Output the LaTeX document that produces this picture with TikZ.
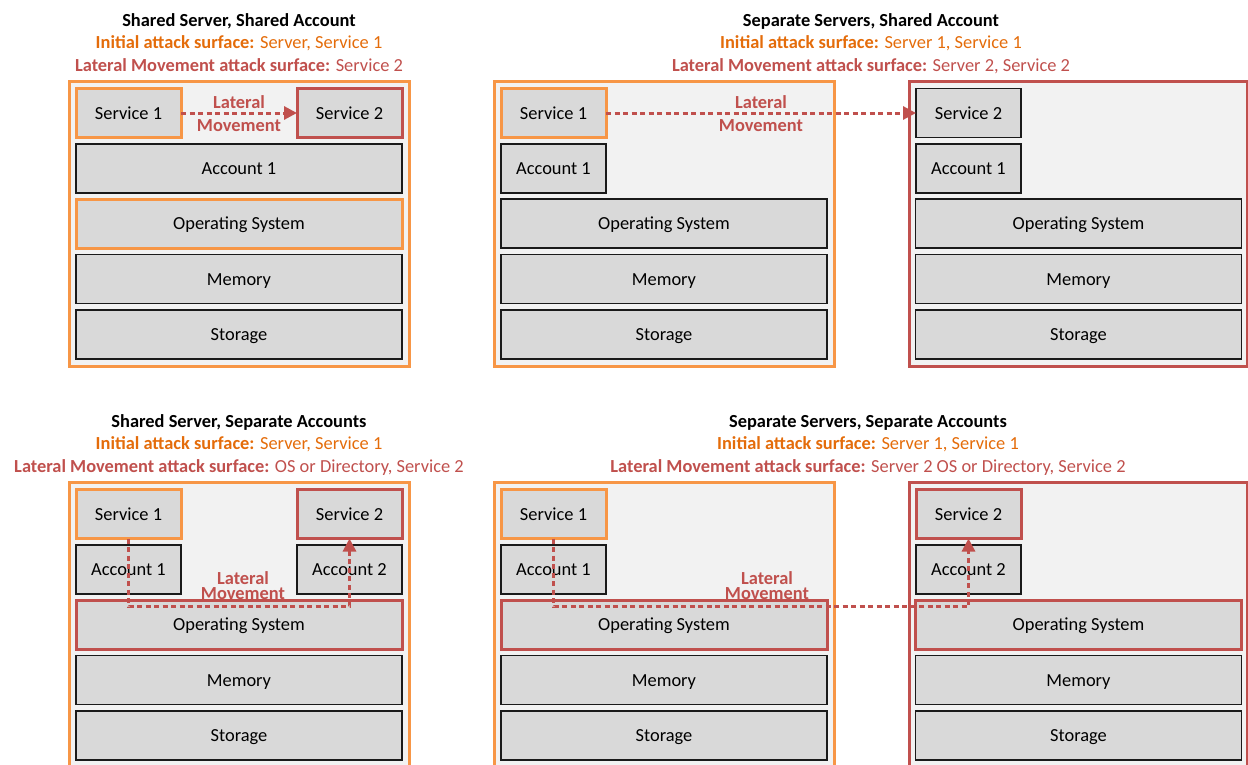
\documentclass[tikz,border=0pt]{standalone}
\usepackage{fontspec}
\setmainfont{Carlito}
\usetikzlibrary{arrows.meta}
\definecolor{orng}{HTML}{F79646}
\definecolor{orngtxt}{HTML}{E46C0A}
\definecolor{redc}{HTML}{C0504D}
\definecolor{boxgray}{HTML}{D9D9D9}
\definecolor{panelbg}{HTML}{F2F2F2}
\definecolor{edgec}{HTML}{1A1A1A}
\newcommand{\hdr}[2]{\textbf{#1} #2}
\begin{document}
\begin{tikzpicture}[x=1pt,y=-1pt,
  every node/.style={font=\fontsize{18.4}{22}\selectfont, inner sep=0pt, outer sep=0pt},
  server/.style={draw=orng, fill=panelbg, line width=3pt, minimum height=285pt},
  serverred/.style={server, draw=redc},
  layer/.style={draw=edgec, fill=boxgray, line width=1.5pt, minimum height=49pt,
                text height=12.3pt, text depth=0pt},
  initial/.style={layer, draw=orng, line width=3pt},
  target/.style={layer, draw=redc, line width=3pt},
  small/.style={minimum width=105pt},
  wide/.style={minimum width=326pt},
  ttl/.style={anchor=base, font=\fontsize{18.4}{22}\selectfont\bfseries},
  sub/.style={anchor=base},
  lateral/.style={draw=redc, line width=3pt, dash pattern=on 5pt off 3.5pt,
                  -{Triangle[length=13pt,width=13pt]}},
  latlabel/.style={text=redc, align=center, anchor=base,
                   font=\fontsize{18.4}{#1}\selectfont\bfseries},
]
\useasboundingbox (0,0) rectangle (1248,764);
\clip (0,0) rectangle (1248,764);

% ---------- Shared Server, Shared Account ----------
\node[ttl] (t1) at (239,26) {Shared Server, Shared Account};
\node[sub, text=orngtxt] (i1) at (239,48) {\hdr{Initial attack surface:}{Server, Service 1}};
\node[sub, text=redc] (l1) at (239,71) {\hdr{Lateral Movement attack surface:}{Service 2}};
\node[server, minimum width=340pt] (srvA) at (239,223.5) {};
\node[initial, small] (s1a) at (128.5,113) {Service 1};
\node[target, small] (s2a) at (349.5,113) {Service 2};
\node[layer, wide] (acA) at (239,168.5) {Account 1};
\node[initial, wide] (osA) at (239,223.5) {Operating System};
\node[layer, wide] (meA) at (239,279) {Memory};
\node[layer, wide] (stA) at (239,334.5) {Storage};
\draw[lateral] (s1a.east) -- (s2a.west);
\node[latlabel=23pt] (lmA) at (239,131) {Lateral\\Movement};

% ---------- Separate Servers, Shared Account ----------
\node[ttl] (t2) at (871,26) {Separate Servers, Shared Account};
\node[sub, text=orngtxt] (i2) at (871,48) {\hdr{Initial attack surface:}{Server 1, Service 1}};
\node[sub, text=redc] (l2) at (871,71) {\hdr{Lateral Movement attack surface:}{Server 2, Service 2}};
\node[server, minimum width=340pt] (srvB1) at (664,223.5) {};
\node[serverred, minimum width=338pt] (srvB2) at (1078,223.5) {};
\node[initial, small] (s1b) at (553.5,113) {Service 1};
\node[layer, small] (ac1b) at (553.5,168.5) {Account 1};
\node[layer, wide] (os1b) at (664,223.5) {Operating System};
\node[layer, wide] (me1b) at (664,279) {Memory};
\node[layer, wide] (st1b) at (664,334.5) {Storage};
\node[layer, small] (s2b) at (968.5,113) {Service 2};
\node[layer, small] (ac2b) at (968.5,168.5) {Account 1};
\node[layer, wide] (os2b) at (1078.5,223.5) {Operating System};
\node[layer, wide] (me2b) at (1078.5,279) {Memory};
\node[layer, wide] (st2b) at (1078.5,334.5) {Storage};
\draw[lateral] (s1b.east) -- (s2b.west);
\node[latlabel=23pt] (lmB) at (761,131) {Lateral\\Movement};

% ---------- Shared Server, Separate Accounts ----------
\node[ttl] (t3) at (239,427) {Shared Server, Separate Accounts};
\node[sub, text=orngtxt] (i3) at (239,449) {\hdr{Initial attack surface:}{Server, Service 1}};
\node[sub, text=redc] (l3) at (239,472) {\hdr{Lateral Movement attack surface:}{OS or Directory, Service 2}};
\node[server, minimum width=340pt] (srvC) at (239,624.5) {};
\node[initial, small] (s1c) at (128.5,514) {Service 1};
\node[target, small] (s2c) at (349.5,514) {Service 2};
\node[layer, small] (ac1c) at (128.5,569.5) {Account 1};
\node[layer, small] (ac2c) at (349.5,569.5) {Account 2};
\node[target, wide] (osC) at (239,624.5) {Operating System};
\node[layer, wide] (meC) at (239,680) {Memory};
\node[layer, wide] (stC) at (239,735.5) {Storage};
\draw[lateral] (s1c.south) -- ++(0,68) -| (s2c.south);
\node[latlabel=15pt] (lmC) at (243,599) {Lateral\\Movement};

% ---------- Separate Servers, Separate Accounts ----------
\node[ttl] (t4) at (868,427) {Separate Servers, Separate Accounts};
\node[sub, text=orngtxt] (i4) at (868,449) {\hdr{Initial attack surface:}{Server 1, Service 1}};
\node[sub, text=redc] (l4) at (868,472) {\hdr{Lateral Movement attack surface:}{Server 2 OS or Directory, Service 2}};
\node[server, minimum width=340pt] (srvD1) at (664,624.5) {};
\node[serverred, minimum width=338pt] (srvD2) at (1078,624.5) {};
\node[initial, small] (s1d) at (553.5,514) {Service 1};
\node[layer, small] (ac1d) at (553.5,569.5) {Account 1};
\node[target, wide] (os1d) at (664,624.5) {Operating System};
\node[layer, wide] (me1d) at (664,680) {Memory};
\node[layer, wide] (st1d) at (664,735.5) {Storage};
\node[target, small] (s2d) at (968.5,514) {Service 2};
\node[layer, small] (ac2d) at (968.5,569.5) {Account 2};
\node[target, wide] (os2d) at (1078.5,624.5) {Operating System};
\node[layer, wide] (me2d) at (1078.5,680) {Memory};
\node[layer, wide] (st2d) at (1078.5,735.5) {Storage};
\draw[lateral] (s1d.south) -- ++(0,68) -| (s2d.south);
\node[latlabel=15pt] (lmD) at (767,599) {Lateral\\Movement};
\end{tikzpicture}
\end{document}
